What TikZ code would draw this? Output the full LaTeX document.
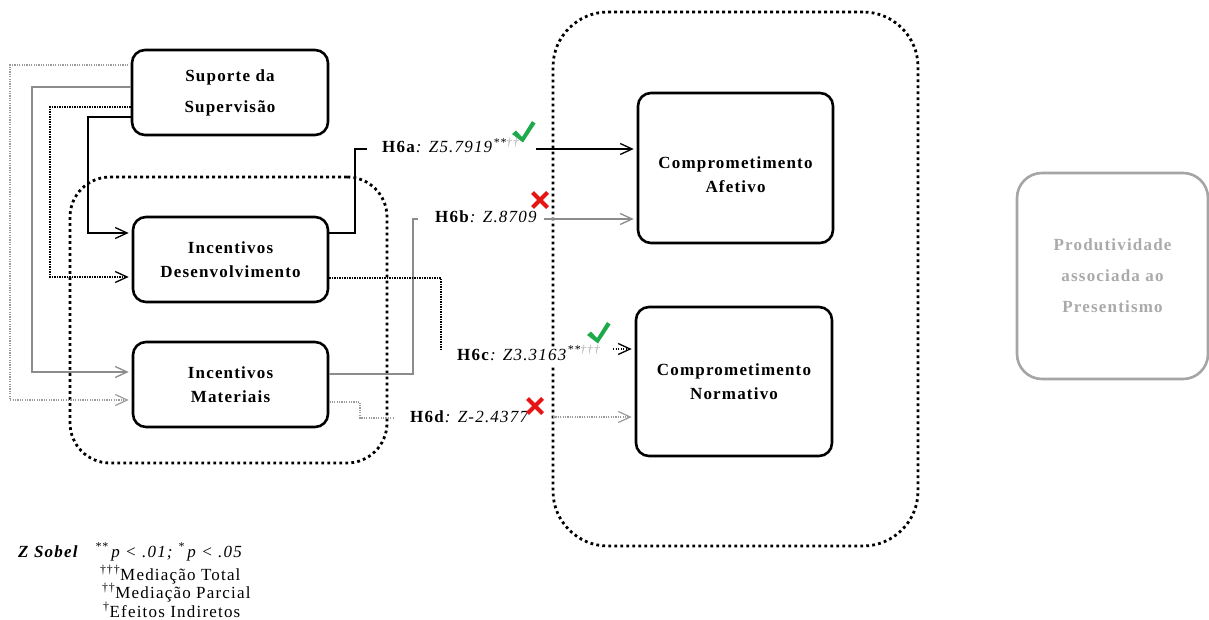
\documentclass[tikz,border=0pt]{standalone}
\usepackage{fontspec}
\setmainfont{Liberation Serif}[LetterSpace=7]
\usetikzlibrary{arrows.meta}
\definecolor{linegray}{RGB}{140,140,140}
\definecolor{lightline}{RGB}{155,155,155}
\definecolor{boxgray}{RGB}{165,165,165}
\definecolor{textgray}{RGB}{170,170,170}
\definecolor{okgreen}{RGB}{30,170,75}
\definecolor{nored}{RGB}{230,20,20}
\tikzset{
  okmark/.pic={\fill[okgreen] (-10,-8) -- (-6,-11.5) -- (0,-5) -- (10,-21) -- (13.5,-18.5) -- (1,0.5) -- cycle;},
  nomark/.pic={\draw[nored, line width=4pt] (-7.5,-7.5) -- (7.5,7.5) (-7.5,7.5) -- (7.5,-7.5);}
}
\begin{document}
\begin{tikzpicture}[x=1pt,y=-1pt,
  font=\fontsize{17}{24}\selectfont,
  varbox/.style={draw, line width=2.6pt, rounded corners=13pt, align=center, inner sep=0pt,
    font=\fontsize{17}{24}\selectfont\bfseries},
  group/.style={draw, line width=2.8pt, dash pattern=on 2.8pt off 3.2pt, inner sep=0pt},
  tip/.style={-{Straight Barb[length=12pt,width=11pt]}, shorten >=3pt},
  solidblack/.style={line width=1.3pt, black},
  dotblack/.style={line width=1.3pt, black, dash pattern=on 1.3pt off 1.2pt},
  solidgray/.style={line width=1.3pt, linegray},
  dotgray/.style={line width=1.2pt, lightline, dash pattern=on 1.2pt off 1.2pt},
  lab/.style={fill=white, inner xsep=3pt, inner ysep=1pt, text height=12pt, text depth=4pt}
]
\useasboundingbox (0,0) rectangle (1209,620);

% dotted groupings
\node[group, minimum width=317pt, minimum height=286pt, rounded corners=40pt] (inner) at (228.5,320) {};
\node[group, minimum width=365pt, minimum height=534pt, rounded corners=55pt] (outer) at (735.5,279) {};

% variables
\node[varbox, minimum width=196pt, minimum height=85pt] (sup) at (230,92.5) {Suporte da\\[7pt]Supervisão};
\node[varbox, minimum width=195pt, minimum height=85pt] (dev) at (230.5,259.5) {Incentivos\\Desenvolvimento};
\node[varbox, minimum width=195pt, minimum height=85pt] (mat) at (230.5,384.5) {Incentivos\\Materiais};
\node[varbox, minimum width=195pt, minimum height=150pt, text height=50pt] (afe) at (735.5,168) {Comprometimento\\Afetivo};
\node[varbox, minimum width=196pt, minimum height=149pt] (nor) at (734,381.5) {Comprometimento\\Normativo};
\node[varbox, draw=boxgray, text=textgray, rounded corners=25pt, minimum width=191pt, minimum height=206pt] (prod) at (1112.5,276)
  {Produtividade\\[7pt]associada ao\\[7pt]Presentismo};

% paths from supervisor support
\draw[dotgray, tip] ([yshift=27.5pt]sup.west) -| (10,400) -- ([yshift=-15.5pt]mat.west);
\draw[solidgray, tip] ([yshift=5.5pt]sup.west) -| (32,372) -- ([yshift=12.5pt]mat.west);
\draw[dotblack, tip] ([yshift=-14.5pt]sup.west) -| (50,277) -- ([yshift=-17.5pt]dev.west);
\draw[solidblack, tip] ([yshift=-24.5pt]sup.west) -| (88,233) -- ([yshift=26.5pt]dev.west);

% mediation labels
\node[lab, anchor=west] (la) at (379,149) {\textbf{H6a}\textit{: Z5.7919}\textsuperscript{\textit{**\textcolor{textgray}{††}}}};
\node[lab, anchor=west] (lb) at (432,219) {\textbf{H6b}\textit{: Z.8709}};
\node[lab, anchor=base west] (lc) at (454,360) {\textbf{H6c}\textit{: Z3.3163}\textsuperscript{\textit{**\textcolor{textgray}{†††}}}};
\node[lab, anchor=west] (ld) at (407,418) {\textbf{H6d}\textit{: Z-2.4377}};

% H6a
\draw[solidblack] ([yshift=26.5pt]dev.east) -| (355,149) -- ([xshift=-12pt]la.west);
\coordinate (ea) at (536,149);
\draw[solidblack, tip] (ea) -- (afe.west |- ea);
% H6b
\draw[solidgray] ([yshift=10.5pt]mat.east) -| (413,219) -- ([xshift=-14pt]lb.west);
\coordinate (eb) at (544,219);
\draw[solidgray, tip] (eb) -- (afe.west |- eb);
% H6c
\coordinate (kc) at (441,350);
\draw[dotblack] ([yshift=-18.5pt]dev.east) -| (kc);
\coordinate (ec) at (613,349);
\draw[dotblack, tip] (ec) -- (nor.west |- ec);
% H6d
\draw[dotgray] ([yshift=-17.5pt]mat.east) -| (360,418) -- ([xshift=-14pt]ld.west);
\coordinate (ed) at (553,417);
\draw[dotgray, tip] (ed) -- (nor.west |- ed);

% results
\pic at (522,142) {okmark};
\pic at (540,200) {nomark};
\pic at (597,343) {okmark};
\pic at (535,406) {nomark};

% legend
\begin{scope}[every node/.style={anchor=base west, inner sep=0pt, font=\fontsize{17}{19}\selectfont}]
\node (zs) at (18,557) {\textbf{\textit{Z Sobel}}};
\node (pv) at (95,557) {\textit{\textsuperscript{**}\,p < .01; \textsuperscript{*}\,p < .05}};
\node (l1) at (100,580) {\textsuperscript{†††}Mediação Total};
\node (l2) at (102,598) {\textsuperscript{††}Mediação Parcial};
\node (l3) at (103,617) {\textsuperscript{†}Efeitos Indiretos};
\end{scope}
\end{tikzpicture}
\end{document}
